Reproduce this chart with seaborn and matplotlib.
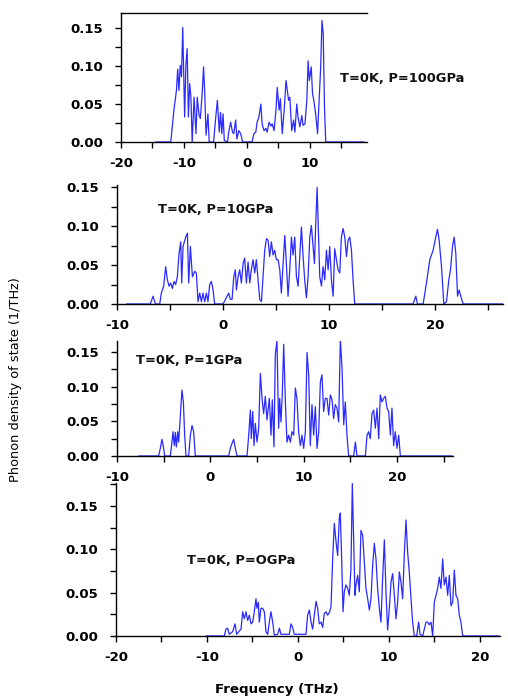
import matplotlib
matplotlib.use("Agg")
import matplotlib.pyplot as plt
import seaborn as sns
import pandas as pd
from matplotlib.ticker import MultipleLocator, FormatStrFormatter

# ---------------- data ----------------
labels = ["T=0K, P=100GPa", "T=0K, P=10GPa", "T=0K, P=1GPa", "T=0K, P=OGPa"]

freq_100 = [-14.5, -12.1, -11.6, -11.2, -11.0, -10.8, -10.6, -10.4, -10.2, -9.9, -9.7, -9.5,
            -9.3, -9.1, -8.9, -8.7, -8.4, -8.1, -7.9, -7.6, -7.4, -7.1, -6.9, -6.7, -6.5,
            -6.2, -6.0, -5.3, -5.0, -4.7, -4.4, -4.2, -4.0, -3.8, -3.6, -3.1, -2.9, -2.6,
            -2.3, -2.1, -1.8, -1.6, -1.3, -1.0, -0.7, 0.8, 1.1, 1.4, 1.6, 1.9, 2.2, 2.4,
            2.7, 3.0, 3.2, 3.5, 3.8, 4.0, 4.3, 4.6, 4.8, 5.1, 5.3, 5.6, 5.9, 6.2, 6.6,
            6.8, 7.1, 7.4, 7.6, 7.9, 8.1, 8.4, 8.7, 8.9, 9.2, 9.5, 9.7, 9.9, 10.2, 10.4,
            10.6, 10.9, 11.2, 11.4, 11.7, 11.9, 12.1, 12.3, 12.5, 18.6]
dos_100 = [0.0, 0.0, 0.042, 0.068, 0.096, 0.068, 0.101, 0.086, 0.151, 0.033, 0.101, 0.123,
           0.033, 0.077, 0.059, 0.0, 0.059, 0.011, 0.059, 0.035, 0.031, 0.066, 0.099, 0.064,
           0.009, 0.037, 0.0, 0.0, 0.029, 0.055, 0.013, 0.039, 0.011, 0.037, 0.002, 0.0,
           0.013, 0.026, 0.013, 0.011, 0.029, 0.004, 0.015, 0.011, 0.0, 0.0, 0.011, 0.013,
           0.026, 0.033, 0.050, 0.024, 0.015, 0.018, 0.013, 0.026, 0.021, 0.024, 0.015,
           0.042, 0.072, 0.042, 0.057, 0.011, 0.042, 0.081, 0.055, 0.059, 0.015, 0.029,
           0.013, 0.050, 0.033, 0.020, 0.035, 0.022, 0.024, 0.055, 0.107, 0.081, 0.099,
           0.064, 0.055, 0.037, 0.011, 0.046, 0.099, 0.160, 0.143, 0.046, 0.0, 0.0]

freq_10 = [-9.1, -6.86, -6.6, -6.38, -5.97, -5.82, -5.6, -5.41, -5.25, -5.09, -4.94, -4.78,
           -4.62, -4.47, -4.31, -4.15, -3.99, -3.9, -3.77, -3.52, -3.36, -3.24, -3.08, -2.89,
           -2.67, -2.52, -2.36, -2.2, -2.04, -1.89, -1.73, -1.57, -1.42, -1.26, -1.1, -0.94,
           -0.79, 0.0, 0.31, 0.53, 0.69, 0.85, 1.01, 1.16, 1.26, 1.42, 1.57, 1.73, 1.89,
           2.04, 2.2, 2.36, 2.52, 2.67, 2.83, 2.99, 3.14, 3.3, 3.46, 3.62, 3.77, 3.93, 4.09,
           4.25, 4.4, 4.56, 4.72, 4.87, 5.03, 5.19, 5.35, 5.5, 5.66, 5.82, 5.97, 6.13, 6.29,
           6.45, 6.6, 6.76, 6.92, 7.08, 7.23, 7.39, 7.55, 7.7, 7.86, 8.02, 8.18, 8.33, 8.49,
           8.62, 8.74, 8.87, 8.99, 9.12, 9.28, 9.43, 9.59, 9.75, 9.91, 10.06, 10.22, 10.38,
           10.53, 10.69, 10.85, 11.01, 11.16, 11.32, 11.48, 11.64, 11.79, 11.95, 12.11,
           12.26, 12.42, 17.92, 18.18, 18.33, 18.87, 19.18, 19.5, 19.81, 20.06, 20.22, 20.38,
           20.6, 20.82, 21.07, 21.29, 21.45, 21.64, 21.79, 21.95, 22.11, 22.26, 22.42, 22.64,
           26.4]
dos_10 = [0.0, 0.0, 0.010, 0.0, 0.0, 0.014, 0.023, 0.048, 0.031, 0.023, 0.027, 0.020,
          0.029, 0.025, 0.035, 0.065, 0.080, 0.027, 0.074, 0.086, 0.091, 0.027, 0.074, 0.035,
          0.042, 0.040, 0.003, 0.014, 0.003, 0.014, 0.003, 0.014, 0.003, 0.025, 0.029, 0.018,
          0.0, 0.0, 0.008, 0.014, 0.006, 0.006, 0.035, 0.044, 0.018, 0.035, 0.044, 0.027,
          0.052, 0.059, 0.027, 0.054, 0.027, 0.044, 0.057, 0.040, 0.057, 0.031, 0.006, 0.003,
          0.035, 0.069, 0.084, 0.082, 0.061, 0.080, 0.063, 0.069, 0.057, 0.057, 0.044, 0.014,
          0.052, 0.088, 0.052, 0.010, 0.044, 0.086, 0.063, 0.086, 0.035, 0.023, 0.061, 0.099,
          0.061, 0.031, 0.008, 0.035, 0.086, 0.101, 0.074, 0.052, 0.103, 0.150, 0.095, 0.035,
          0.023, 0.048, 0.031, 0.069, 0.044, 0.074, 0.031, 0.010, 0.071, 0.057, 0.044, 0.040,
          0.086, 0.097, 0.086, 0.061, 0.082, 0.086, 0.069, 0.031, 0.0, 0.0, 0.010, 0.0, 0.0,
          0.027, 0.057, 0.069, 0.086, 0.096, 0.082, 0.048, 0.0, 0.003, 0.031, 0.044, 0.074,
          0.086, 0.065, 0.010, 0.018, 0.010, 0.0, 0.0]

freq_1 = [-7.68, -5.54, -5.36, -5.18, -5.0, -4.89, -4.29, -4.11, -4.0, -3.86, -3.75, -3.64,
          -3.5, -3.39, -3.21, -3.04, -2.89, -2.75, -2.61, -2.32, -2.14, -1.96, -1.79, -1.61,
          1.96, 2.14, 2.32, 2.5, 2.68, 2.86, 3.93, 4.11, 4.29, 4.39, 4.54, 4.68, 4.82, 5.0,
          5.18, 5.36, 5.54, 5.71, 5.89, 6.07, 6.32, 6.5, 6.64, 6.82, 6.96, 7.14, 7.32, 7.43,
          7.57, 7.71, 7.86, 8.04, 8.21, 8.39, 8.57, 8.75, 8.93, 9.11, 9.29, 9.46, 9.64, 9.82,
          10.0, 10.18, 10.36, 10.54, 10.71, 10.89, 11.07, 11.25, 11.43, 11.61, 11.79, 11.96,
          12.14, 12.32, 12.5, 12.68, 12.86, 13.04, 13.21, 13.39, 13.57, 13.75, 13.93, 14.11,
          14.29, 14.46, 14.64, 14.82, 15.36, 15.54, 15.71, 16.61, 16.79, 16.96, 17.14, 17.32,
          17.5, 17.68, 17.86, 18.04, 18.21, 18.39, 18.57, 18.75, 18.93, 19.11, 19.29, 19.46,
          19.64, 19.82, 20.0, 20.18, 20.36, 25.9]
dos_1 = [0.0, 0.0, 0.011, 0.024, 0.011, 0.0, 0.0, 0.020, 0.035, 0.015, 0.034, 0.013,
         0.035, 0.020, 0.059, 0.095, 0.078, 0.030, 0.0, 0.0, 0.030, 0.044, 0.035, 0.0,
         0.0, 0.011, 0.018, 0.024, 0.011, 0.0, 0.0, 0.030, 0.066, 0.025, 0.064, 0.015,
         0.047, 0.020, 0.040, 0.119, 0.083, 0.061, 0.086, 0.052, 0.083, 0.030, 0.081, 0.013,
         0.146, 0.166, 0.040, 0.083, 0.049, 0.090, 0.161, 0.078, 0.020, 0.030, 0.020, 0.035,
         0.030, 0.098, 0.081, 0.035, 0.015, 0.030, 0.011, 0.035, 0.149, 0.117, 0.015, 0.074,
         0.030, 0.071, 0.011, 0.035, 0.107, 0.117, 0.064, 0.083, 0.083, 0.059, 0.088, 0.081,
         0.054, 0.074, 0.069, 0.049, 0.168, 0.127, 0.045, 0.078, 0.030, 0.0, 0.0, 0.020, 0.0,
         0.0, 0.030, 0.035, 0.025, 0.061, 0.066, 0.040, 0.069, 0.025, 0.088, 0.078, 0.083,
         0.086, 0.069, 0.064, 0.030, 0.069, 0.015, 0.035, 0.011, 0.030, 0.0, 0.0]

freq_0 = [-10.11, -8.1, -7.91, -7.73, -7.55, -7.18, -6.92, -6.74, -6.26, -6.08, -5.9, -5.71,
          -5.53, -5.35, -5.16, -4.98, -4.8, -4.62, -4.51, -4.36, -4.25, -4.07, -3.88, -3.7,
          -3.52, -3.33, -3.15, -2.97, -2.78, -2.6, -2.23, -2.05, -1.87, -0.95, -0.77, -0.59,
          -0.4, 0.88, 1.06, 1.25, 1.43, 1.61, 1.79, 1.98, 2.16, 2.34, 2.53, 2.71, 2.89, 3.08,
          3.26, 3.44, 3.63, 3.81, 3.99, 4.18, 4.36, 4.54, 4.65, 4.8, 4.95, 5.09, 5.27, 5.46,
          5.64, 5.82, 5.97, 6.12, 6.26, 6.37, 6.56, 6.74, 6.92, 7.11, 7.29, 7.47, 7.66, 7.84,
          8.02, 8.21, 8.39, 8.57, 8.75, 8.94, 9.12, 9.3, 9.49, 9.67, 9.85, 10.04, 10.22, 10.4,
          10.59, 10.77, 10.95, 11.14, 11.32, 11.5, 11.68, 11.87, 12.05, 12.23, 12.42, 12.6,
          12.78, 13.04, 13.26, 13.41, 13.7, 13.88, 14.07, 14.25, 14.43, 14.62, 14.8, 14.98,
          15.16, 15.35, 15.53, 15.71, 15.9, 16.08, 16.26, 16.45, 16.63, 16.81, 17.0, 17.18,
          17.36, 17.55, 17.73, 17.91, 18.1, 22.1]
dos_0 = [0.0, 0.0, 0.008, 0.009, 0.002, 0.005, 0.014, 0.002, 0.008, 0.028, 0.020, 0.028,
         0.018, 0.024, 0.014, 0.016, 0.028, 0.043, 0.032, 0.039, 0.016, 0.032, 0.032, 0.028,
         0.005, 0.002, 0.016, 0.028, 0.016, 0.001, 0.002, 0.009, 0.002, 0.002, 0.014, 0.010,
         0.002, 0.002, 0.024, 0.030, 0.016, 0.008, 0.024, 0.040, 0.032, 0.014, 0.016, 0.010,
         0.026, 0.028, 0.024, 0.027, 0.034, 0.089, 0.130, 0.109, 0.093, 0.136, 0.142, 0.089,
         0.028, 0.051, 0.059, 0.055, 0.047, 0.078, 0.176, 0.109, 0.047, 0.059, 0.070, 0.051,
         0.122, 0.116, 0.086, 0.055, 0.043, 0.030, 0.043, 0.082, 0.107, 0.089, 0.055, 0.032,
         0.016, 0.066, 0.111, 0.051, 0.007, 0.032, 0.062, 0.072, 0.047, 0.020, 0.039, 0.074,
         0.062, 0.043, 0.093, 0.134, 0.097, 0.074, 0.043, 0.016, 0.0, 0.0, 0.016, 0.002, 0.0,
         0.008, 0.016, 0.016, 0.013, 0.016, 0.0, 0.039, 0.047, 0.055, 0.068, 0.055, 0.089,
         0.059, 0.068, 0.047, 0.070, 0.035, 0.039, 0.076, 0.047, 0.043, 0.024, 0.016, 0.0,
         0.0]

# ---------------- layout ----------------
sns.set_theme(style="ticks")
plt.rcParams['font.family'] = ['DejaVu Sans']
plt.rcParams['axes.unicode_minus'] = False

W, H = 508, 698
fig = plt.figure(figsize=(W / 100, H / 100), dpi=100)

panels = [
    dict(f=freq_100, d=dos_100, rect=[121, 13, 367, 142], xlim=(-20, 19.05), ylim=0.170,
         top=True, txt=(340, 78)),
    dict(f=freq_10, d=dos_10, rect=[117, 185, 503, 304], xlim=(-10, 26.4), ylim=0.153,
         top=False, txt=(158, 210)),
    dict(f=freq_1, d=dos_1, rect=[117, 341, 453, 456], xlim=(-10, 26.0), ylim=0.1657,
         top=False, txt=(136, 360)),
    dict(f=freq_0, d=dos_0, rect=[116, 483, 500, 636], xlim=(-20, 22.2), ylim=0.1767,
         top=False, txt=(187, 560)),
]

line_color = "#2a2aff"
for p, lab in zip(panels, labels):
    l, t, r, b = p["rect"]
    ax = fig.add_axes([l / W, (H - b) / H, (r - l) / W, (b - t) / H])
    df = pd.DataFrame({"Frequency": p["f"], "DOS": p["d"]})
    sns.lineplot(data=df, x="Frequency", y="DOS", ax=ax, color=line_color,
                 linewidth=0.9, sort=False, estimator=None)
    ax.set_xlim(*p["xlim"])
    ax.set_ylim(0, p["ylim"])
    ax.set_xlabel("")
    ax.set_ylabel("")
    for s in ["left", "bottom", "top", "right"]:
        ax.spines[s].set_color("black")
        ax.spines[s].set_linewidth(1.0)
    ax.spines["right"].set_visible(False)
    ax.spines["top"].set_visible(p["top"])
    ax.xaxis.set_major_locator(MultipleLocator(10))
    ax.xaxis.set_minor_locator(MultipleLocator(5))
    ax.yaxis.set_major_locator(MultipleLocator(0.05))
    ax.yaxis.set_minor_locator(MultipleLocator(0.025))
    ax.yaxis.set_major_formatter(FormatStrFormatter("%.2f"))
    ax.tick_params(axis="x", which="both", direction="out", length=4, width=1,
                   color="black", pad=7)
    ax.tick_params(axis="y", which="both", direction="out", length=4, width=1,
                   color="black", pad=9)
    for tl in ax.get_xticklabels() + ax.get_yticklabels():
        tl.set_fontweight("bold")
        tl.set_fontsize(9.5)
        tl.set_color("black")
    ax.set_facecolor("white")
    tx, ty = p["txt"]
    fig.text(tx / W, (H - ty) / H, lab, fontsize=9.4, fontweight="bold",
             ha="left", va="center", color="#111111")

fig.text(16 / W, (H - 380) / H, "Phonon density of state (1/THz)", rotation=90,
         fontsize=9.3, ha="center", va="center", color="black")
fig.text(277 / W, (H - 690) / H, "Frequency (THz)", fontsize=9.6, fontweight="bold",
         ha="center", va="center", color="black")

fig.savefig("out.png", dpi=100, facecolor="white")
